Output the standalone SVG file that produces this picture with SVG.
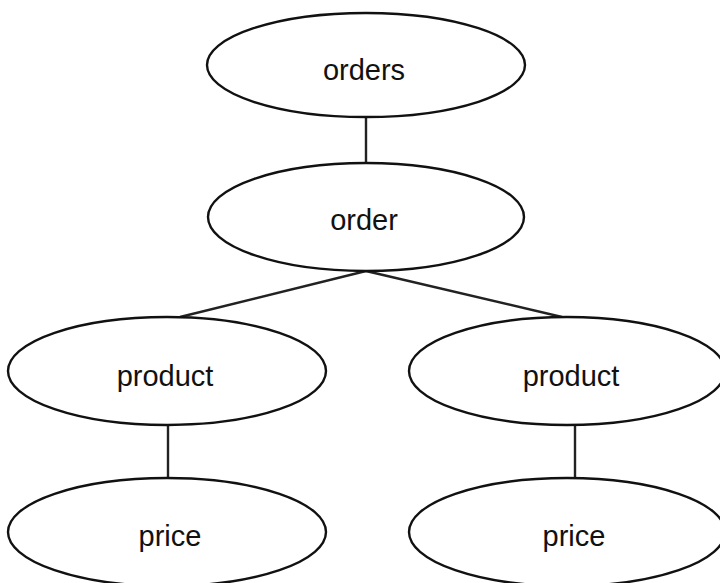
<svg xmlns="http://www.w3.org/2000/svg" width="720" height="583" viewBox="0 0 720 583">
<style>
.n{fill:#fff;stroke:#111;stroke-width:2.4}
.t{font-family:"Liberation Sans",Arial,sans-serif;font-size:29px;fill:#111;text-anchor:middle}
.c{stroke:#222;stroke-width:2.4;fill:none}
</style>
<rect width="720" height="583" fill="#fff"/>
<g id="connectors">
<line class="c" x1="366" y1="117" x2="366" y2="162"/>
<line class="c" x1="366" y1="271" x2="180" y2="317"/>
<line class="c" x1="366" y1="271" x2="562" y2="317"/>
<line class="c" x1="168" y1="425" x2="168" y2="478"/>
<line class="c" x1="575" y1="425" x2="575" y2="478"/>
</g>
<g id="orders"><ellipse class="n" cx="366" cy="65" rx="159" ry="52"/><text class="t" x="364" y="80">orders</text></g>
<g id="order"><ellipse class="n" cx="366" cy="217" rx="158" ry="54"/><text class="t" x="364" y="230">order</text></g>
<g id="product1"><ellipse class="n" cx="167" cy="371" rx="159" ry="54"/><text class="t" x="165" y="386">product</text></g>
<g id="product2"><ellipse class="n" cx="567" cy="371" rx="158" ry="54"/><text class="t" x="571" y="386">product</text></g>
<g id="price1"><ellipse class="n" cx="167" cy="532" rx="159" ry="54"/><text class="t" x="170" y="546">price</text></g>
<g id="price2"><ellipse class="n" cx="567" cy="532" rx="158" ry="54"/><text class="t" x="574" y="546">price</text></g>
</svg>
